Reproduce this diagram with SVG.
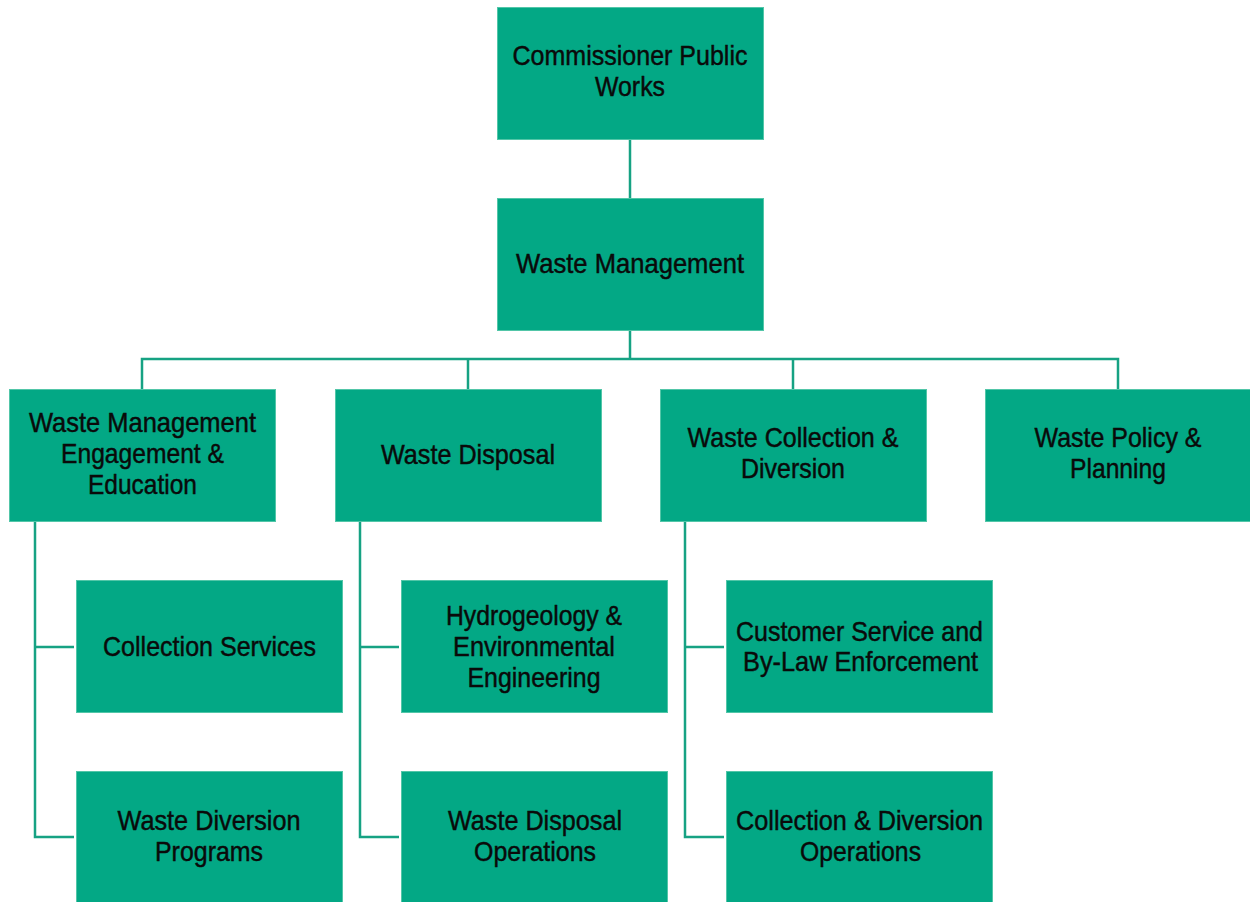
<svg xmlns="http://www.w3.org/2000/svg" width="1250" height="902" viewBox="0 0 1250 902">
  <style>
    .box { fill: #03a885; stroke: #52c6a8; stroke-width: 1; }
    .lbl { font-family: "Liberation Sans", Arial, sans-serif; font-size: 28px; fill: #0a0a0a; stroke: #0a0a0a; stroke-width: 0.45; text-anchor: middle; }
    .wire { fill: none; stroke: #16a283; stroke-width: 2.5; }
  </style>
  <rect width="1250" height="902" fill="#ffffff"/>

  <!-- connectors -->
  <g id="connectors" class="wire">
    <path d="M630 139 V198"/>
    <path d="M630 330 V359"/>
    <path d="M142 389 V359 H1118 V389"/>
    <path d="M468 359 V389"/>
    <path d="M793 359 V389"/>
    <path d="M35 521 V837 H74 M35 647 H74"/>
    <path d="M360 521 V837 H399 M360 647 H399"/>
    <path d="M685 521 V837 H724 M685 647 H724"/>
  </g>

  <!-- top level -->
  <g id="commissioner">
    <rect class="box" x="497.5" y="7.5" width="266" height="132"/>
    <text class="lbl" x="630" y="65" textLength="235" lengthAdjust="spacingAndGlyphs">Commissioner Public</text>
    <text class="lbl" x="630" y="96" textLength="70" lengthAdjust="spacingAndGlyphs">Works</text>
  </g>
  <g id="waste-management">
    <rect class="box" x="497.5" y="198.5" width="266" height="132"/>
    <text class="lbl" x="630" y="273" textLength="228" lengthAdjust="spacingAndGlyphs">Waste Management</text>
  </g>

  <!-- divisions -->
  <g id="engagement-education">
    <rect class="box" x="9.5" y="389.5" width="266" height="132"/>
    <text class="lbl" x="142.5" y="432" textLength="227" lengthAdjust="spacingAndGlyphs">Waste Management</text>
    <text class="lbl" x="142.5" y="463" textLength="163" lengthAdjust="spacingAndGlyphs">Engagement &amp;</text>
    <text class="lbl" x="142.5" y="494" textLength="109" lengthAdjust="spacingAndGlyphs">Education</text>
  </g>
  <g id="waste-disposal">
    <rect class="box" x="335.5" y="389.5" width="266" height="132"/>
    <text class="lbl" x="468" y="464" textLength="174" lengthAdjust="spacingAndGlyphs">Waste Disposal</text>
  </g>
  <g id="collection-diversion">
    <rect class="box" x="660.5" y="389.5" width="266" height="132"/>
    <text class="lbl" x="793" y="447" textLength="211" lengthAdjust="spacingAndGlyphs">Waste Collection &amp;</text>
    <text class="lbl" x="793" y="478" textLength="104" lengthAdjust="spacingAndGlyphs">Diversion</text>
  </g>
  <g id="policy-planning">
    <rect class="box" x="985.5" y="389.5" width="266" height="132"/>
    <text class="lbl" x="1118" y="447" textLength="167" lengthAdjust="spacingAndGlyphs">Waste Policy &amp;</text>
    <text class="lbl" x="1118" y="478" textLength="96" lengthAdjust="spacingAndGlyphs">Planning</text>
  </g>

  <!-- units -->
  <g id="collection-services">
    <rect class="box" x="76.5" y="580.5" width="266" height="132"/>
    <text class="lbl" x="209.5" y="656" textLength="213" lengthAdjust="spacingAndGlyphs">Collection Services</text>
  </g>
  <g id="diversion-programs">
    <rect class="box" x="76.5" y="771.5" width="266" height="140"/>
    <text class="lbl" x="209" y="830" textLength="183" lengthAdjust="spacingAndGlyphs">Waste Diversion</text>
    <text class="lbl" x="209" y="861" textLength="108" lengthAdjust="spacingAndGlyphs">Programs</text>
  </g>
  <g id="hydrogeology">
    <rect class="box" x="401.5" y="580.5" width="266" height="132"/>
    <text class="lbl" x="534" y="625" textLength="176" lengthAdjust="spacingAndGlyphs">Hydrogeology &amp;</text>
    <text class="lbl" x="534" y="656" textLength="162" lengthAdjust="spacingAndGlyphs">Environmental</text>
    <text class="lbl" x="534" y="687" textLength="133" lengthAdjust="spacingAndGlyphs">Engineering</text>
  </g>
  <g id="disposal-operations">
    <rect class="box" x="401.5" y="771.5" width="266" height="140"/>
    <text class="lbl" x="535" y="830" textLength="174" lengthAdjust="spacingAndGlyphs">Waste Disposal</text>
    <text class="lbl" x="535" y="861" textLength="122" lengthAdjust="spacingAndGlyphs">Operations</text>
  </g>
  <g id="customer-service">
    <rect class="box" x="726.5" y="580.5" width="266" height="132"/>
    <text class="lbl" x="859.5" y="641" textLength="247" lengthAdjust="spacingAndGlyphs">Customer Service and</text>
    <text class="lbl" x="860.5" y="671" textLength="235" lengthAdjust="spacingAndGlyphs">By-Law Enforcement</text>
  </g>
  <g id="collection-operations">
    <rect class="box" x="726.5" y="771.5" width="266" height="140"/>
    <text class="lbl" x="859.5" y="830" textLength="247" lengthAdjust="spacingAndGlyphs">Collection &amp; Diversion</text>
    <text class="lbl" x="860.5" y="861" textLength="121" lengthAdjust="spacingAndGlyphs">Operations</text>
  </g>
</svg>
